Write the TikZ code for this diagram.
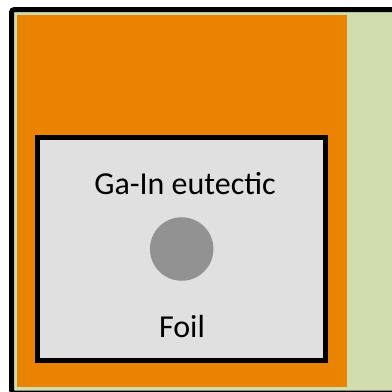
\documentclass[tikz,border=0pt]{standalone}
\usepackage{fontspec}
\setmainfont{Carlito}
\definecolor{bggreen}{RGB}{207,221,175}
\definecolor{layerorange}{RGB}{233,131,0}
\definecolor{foilgray}{RGB}{224,224,224}
\definecolor{dropgray}{RGB}{146,146,146}
\tikzset{
  frame/.style={draw=black, line width=5pt},
  label/.style={font=\fontsize{32}{38}\selectfont, anchor=base, inner sep=0pt},
}
\begin{document}
\begin{tikzpicture}[x=1pt, y=-1pt]
  \useasboundingbox (0,0) rectangle (392,392);
  \clip (0,0) rectangle (392,392);
  % outer holder
  \draw[frame, fill=bggreen, rounded corners=3pt] (11.5,9.5) rectangle (398,393);
  % orange layer
  \fill[layerorange] (17,15) rectangle (347,387);
  % foil box
  \node[frame, fill=foilgray, rectangle, minimum width=288pt, minimum height=223pt, inner sep=0pt]
    (foil) at (181.5,249) {};
  % droplet
  \node[circle, fill=dropgray, minimum size=63.5pt, inner sep=0pt] (drop) at (181.7,249) {};
  \node[label] (ganin) at (185,194.5) {Ga-In eutectic};
  \node[label] (foiltext) at (182,337) {Foil};
\end{tikzpicture}
\end{document}
